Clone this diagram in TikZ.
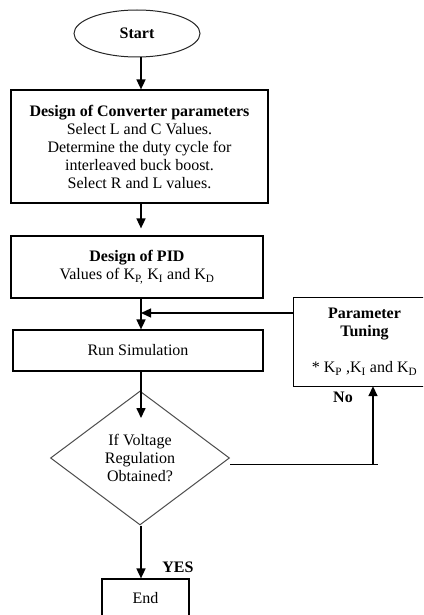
\documentclass[tikz,border=0pt]{standalone}
\usepackage{fontspec}
\setmainfont{Liberation Serif}
\usetikzlibrary{shapes.geometric,arrows.meta}
\tikzset{
  box/.style={draw=black, line width=1.2pt, align=center, inner sep=2pt},
  arr/.style={line width=1.6pt, -{Triangle[length=10pt,width=9pt]}},
  lbl/.style={font=\fontsize{16}{18}\selectfont\bfseries},
}
\begin{document}
\begin{tikzpicture}[x=1pt,y=-1pt, font=\fontsize{16}{18}\selectfont]
\useasboundingbox (0,0) rectangle (423,615);
\clip (0,0) rectangle (423,615);
\fill[white] (0,0) rectangle (423,615);
\coordinate (mx) at (141,0);
\node[ellipse, draw=black!85, line width=1pt, minimum width=126pt, minimum height=47pt, inner sep=0pt, font=\fontsize{16}{18}\selectfont\bfseries] (start) at (137,33.5) {Start};
\node[box, minimum width=257pt, minimum height=113pt] (conv) at (139.5,146.5)
  {\textbf{Design of Converter parameters}\\Select L and C Values.\\Determine the duty cycle for\\interleaved buck boost.\\Select R and L values.};
\node[box, minimum width=252pt, minimum height=62pt] (pid) at (137,267)
  {\textbf{Design of PID}\\Values of K\textsubscript{P,} K\textsubscript{I} and K\textsubscript{D}};
\node[align=center, inner sep=0pt, minimum width=141pt, minimum height=88pt] (param) at (364.5,342)
  {\textbf{Parameter}\\\textbf{Tuning}\\[18pt]* K\textsubscript{P} ,K\textsubscript{I} and K\textsubscript{D}};
\draw[line width=1.2pt] (param.north east) -- (param.north west) -- (param.south west) -- (param.south east);
\node[box, minimum width=250pt, minimum height=41pt] (run) at (138,350.5) {Run Simulation};
\node[diamond, draw=black!70, line width=1pt, aspect=1.336, minimum width=179pt, minimum height=134pt, inner sep=0pt, align=center] (dia) at (140,458)
  {If Voltage\\Regulation\\Obtained?};
\node[box, minimum width=87pt, minimum height=38pt] (end) at (145.5,598) {End};
\node[lbl] (no) at (343,397) {No};
\node[lbl] (yes) at (178,567) {YES};
\coordinate (fbin) at (141,313);
\coordinate (diaIn) at (141,418);
\coordinate (nocorner) at (373,464);
\coordinate (noend) at (378,464);
\draw[arr] (start.south -| mx) -- (conv.north -| mx);
\draw[arr, shorten >=7pt] (conv.south -| mx) -- (pid.north -| mx);
\draw[arr] (pid.south -| mx) -- (run.north -| mx);
\draw[arr, line width=1.3pt] (param.west |- fbin) -- (fbin);
\draw[arr] (run.south -| mx) -- (diaIn);
\draw[arr] (dia.south -| mx) -- (end.north -| mx);
\draw[line width=1pt] ([yshift=-6pt]dia.east) -- (noend);
\draw[arr] (nocorner) -- (param.south -| nocorner);
\end{tikzpicture}
\end{document}
